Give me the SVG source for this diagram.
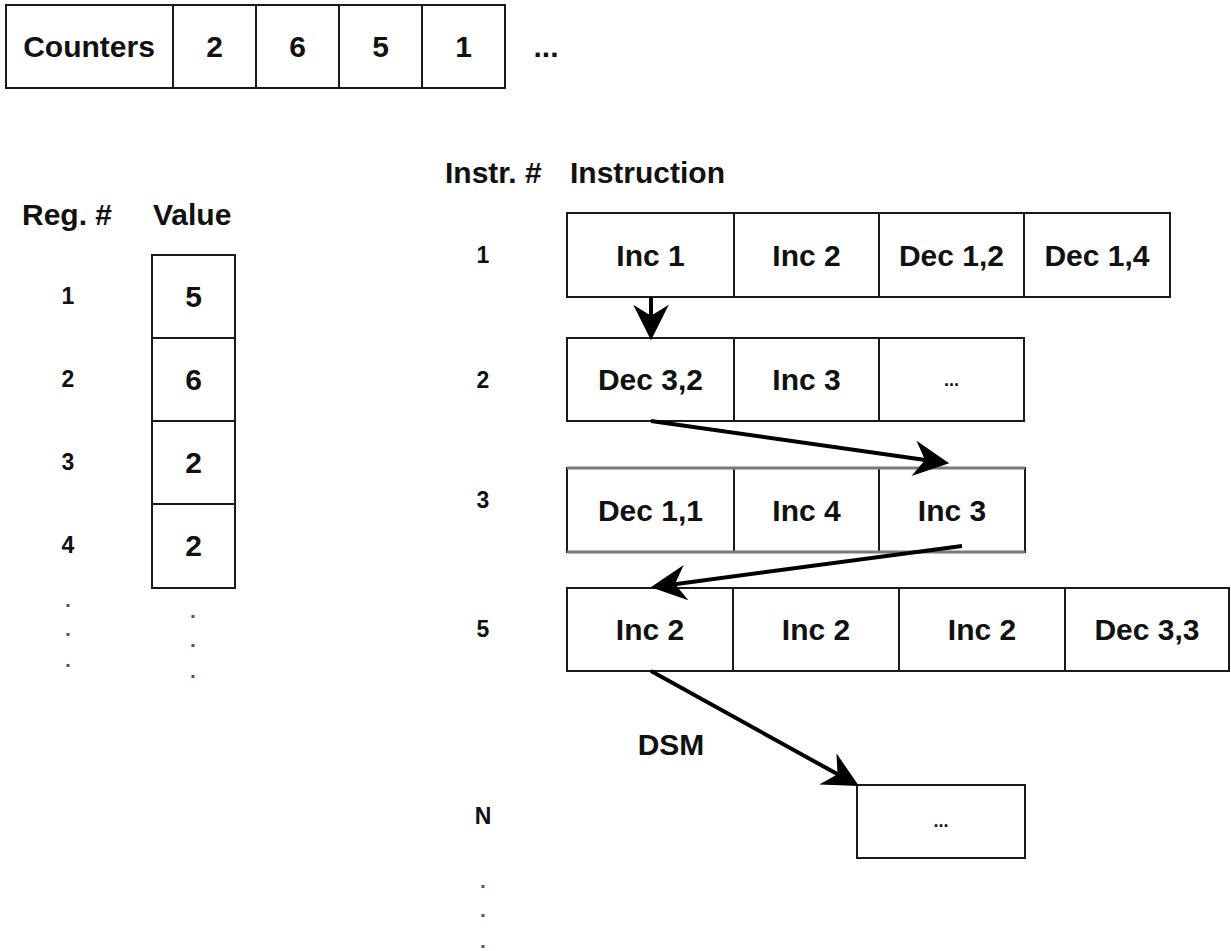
<svg xmlns="http://www.w3.org/2000/svg" width="1231" height="951" viewBox="0 0 1231 951">
<defs>
<style>
.cell{fill:#fff;stroke:#1a1a1a;stroke-width:2}
.t{font-family:"Liberation Sans",Arial,sans-serif;font-weight:bold;font-size:30px;fill:#111;text-anchor:middle}
.h{font-family:"Liberation Sans",Arial,sans-serif;font-weight:bold;font-size:30px;fill:#111}
.s{font-family:"Liberation Sans",Arial,sans-serif;font-weight:bold;font-size:23px;fill:#111;text-anchor:middle}
.e{font-family:"Liberation Sans",Arial,sans-serif;font-weight:bold;font-size:18px;fill:#111;text-anchor:middle}
.d{font-family:"Liberation Sans",Arial,sans-serif;font-weight:bold;font-size:21px;fill:#555;text-anchor:middle}
.c{fill:none;stroke:#000;stroke-width:4}
</style>
<marker id="arr" markerUnits="userSpaceOnUse" markerWidth="40" markerHeight="40" viewBox="-14 -18 36 36" refX="0" refY="0" orient="auto">
<path d="M20,0 L-12,-16 L-2,0 L-12,16 Z" fill="#000"/>
</marker>
</defs>
<rect width="1231" height="951" fill="#fff"/>

<g id="counters">
<rect class="cell" x="6" y="5" width="167" height="83"/>
<rect class="cell" x="173" y="5" width="83" height="83"/>
<rect class="cell" x="256" y="5" width="83" height="83"/>
<rect class="cell" x="339" y="5" width="83" height="83"/>
<rect class="cell" x="422" y="5" width="83" height="83"/>
<text class="t" x="89" y="57">Counters</text>
<text class="t" x="214.5" y="57">2</text>
<text class="t" x="297.5" y="57">6</text>
<text class="t" x="380.5" y="57">5</text>
<text class="t" x="463.5" y="57">1</text>
<text class="t" x="546" y="57">...</text>
</g>

<g id="reg-headers">
<text class="h" x="22" y="225">Reg. #</text>
<text class="h" x="153" y="225">Value</text>
</g>

<g id="registers">
<rect class="cell" x="152" y="255" width="83" height="83"/>
<rect class="cell" x="152" y="338" width="83" height="83"/>
<rect class="cell" x="152" y="421" width="83" height="83"/>
<rect class="cell" x="152" y="504" width="83" height="84"/>
<text class="t" x="193.5" y="307">5</text>
<text class="t" x="193.5" y="390">6</text>
<text class="t" x="193.5" y="473">2</text>
<text class="t" x="193.5" y="556">2</text>
<text class="s" x="68" y="304">1</text>
<text class="s" x="68" y="387">2</text>
<text class="s" x="68" y="470">3</text>
<text class="s" x="68" y="553">4</text>
<text class="d" x="68" y="607">.</text>
<text class="d" x="68" y="636">.</text>
<text class="d" x="68" y="667">.</text>
<text class="d" x="193" y="618">.</text>
<text class="d" x="193" y="647">.</text>
<text class="d" x="193" y="678">.</text>
</g>

<g id="instr-headers">
<text class="h" x="445" y="183">Instr. #</text>
<text class="h" x="570" y="183">Instruction</text>
</g>

<g id="instr-labels">
<text class="s" x="483" y="263">1</text>
<text class="s" x="483" y="388">2</text>
<text class="s" x="483" y="508">3</text>
<text class="s" x="483" y="637">5</text>
<text class="s" x="483" y="824">N</text>
<text class="d" x="483" y="888">.</text>
<text class="d" x="483" y="917">.</text>
<text class="d" x="483" y="948">.</text>
</g>

<g id="row1">
<rect class="cell" x="567" y="213" width="167" height="84"/>
<rect class="cell" x="734" y="213" width="145" height="84"/>
<rect class="cell" x="879" y="213" width="145" height="84"/>
<rect class="cell" x="1024" y="213" width="146" height="84"/>
<text class="t" x="650.5" y="266">Inc 1</text>
<text class="t" x="806.5" y="266">Inc 2</text>
<text class="t" x="951.5" y="266">Dec 1,2</text>
<text class="t" x="1097" y="266">Dec 1,4</text>
</g>

<g id="row2">
<rect class="cell" x="567" y="338" width="167" height="83"/>
<rect class="cell" x="734" y="338" width="145" height="83"/>
<rect class="cell" x="879" y="338" width="145" height="83"/>
<text class="t" x="650.5" y="390">Dec 3,2</text>
<text class="t" x="806.5" y="390">Inc 3</text>
<text class="e" x="951.5" y="386">...</text>
</g>

<g id="row3">
<rect class="cell" x="567" y="468" width="167" height="84"/>
<rect class="cell" x="734" y="468" width="145" height="84"/>
<rect class="cell" x="879" y="468" width="146" height="84"/>
<line x1="567" y1="468" x2="1025" y2="468" stroke="#7a7a7a" stroke-width="3"/>
<line x1="567" y1="552" x2="1025" y2="552" stroke="#7a7a7a" stroke-width="3"/>
<text class="t" x="650.5" y="521">Dec 1,1</text>
<text class="t" x="806.5" y="521">Inc 4</text>
<text class="t" x="952" y="521">Inc 3</text>
</g>

<g id="row5">
<rect class="cell" x="567" y="588" width="166" height="83"/>
<rect class="cell" x="733" y="588" width="166" height="83"/>
<rect class="cell" x="899" y="588" width="166" height="83"/>
<rect class="cell" x="1065" y="588" width="164" height="83"/>
<text class="t" x="650" y="640">Inc 2</text>
<text class="t" x="816" y="640">Inc 2</text>
<text class="t" x="982" y="640">Inc 2</text>
<text class="t" x="1147" y="640">Dec 3,3</text>
</g>

<g id="rowN">
<rect class="cell" x="857" y="785" width="168" height="73"/>
<text class="e" x="941" y="827">...</text>
</g>

<g id="connectors">
<line class="c" x1="651" y1="297" x2="651" y2="318" marker-end="url(#arr)"/>
<line class="c" x1="651" y1="421" x2="927.2" y2="460.2" marker-end="url(#arr)"/>
<line class="c" x1="962" y1="546" x2="672.8" y2="584.4" marker-end="url(#arr)"/>
<line class="c" x1="651" y1="671" x2="839.5" y2="775.3" marker-end="url(#arr)"/>
<text class="t" x="671" y="755">DSM</text>
</g>
</svg>
